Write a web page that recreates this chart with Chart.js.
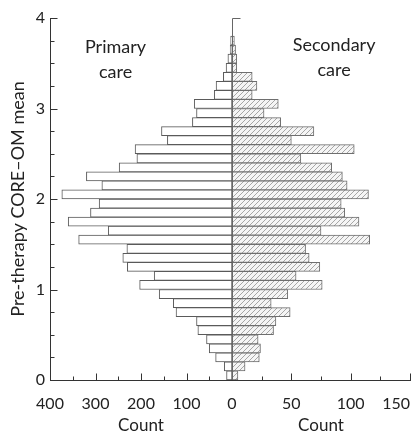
<!DOCTYPE html>
<html>
<head>
<meta charset="utf-8">
<script src="https://cdn.jsdelivr.net/npm/chart.js@4.4.1/dist/chart.umd.min.js"></script>
<style>
  html, body { margin: 0; padding: 0; background: #fff; }
  #wrap { width: 418px; height: 434px; }
</style>
</head>
<body>
<div id="wrap"><canvas id="pyramid"></canvas></div>
<script>
// bin mid points of the CORE-OM mean (bins of 0.1)
const binMid = [0.05, 0.15, 0.25, 0.35, 0.45, 0.55, 0.65, 0.75, 0.85, 0.95,
    1.05, 1.15, 1.25, 1.35, 1.45, 1.55, 1.65, 1.75, 1.85, 1.95,
    2.05, 2.15, 2.25, 2.35, 2.45, 2.55, 2.65, 2.75, 2.85, 2.95,
    3.05, 3.15, 3.25, 3.35, 3.45, 3.55, 3.65, 3.75]
const primaryCare = [12, 17, 36, 50, 56, 75, 78, 123, 129, 160,
    203, 171, 230, 240, 231, 337, 272, 360, 311, 292,
    374, 286, 320, 248, 209, 213, 142, 155, 87, 78,
    83, 39, 35, 19, 13, 9, 4, 3]
const secondaryCare = [5, 11, 23, 24, 22, 35, 37, 49, 33, 47,
    76, 54, 74, 65, 62, 116, 75, 107, 95, 92,
    115, 97, 93, 84, 58, 103, 50, 69, 41, 27,
    39, 17, 21, 17, 4, 4, 3, 2]
const leftMax = 400
const rightMax = 150

const FONT = 'Lato, "Open Sans", sans-serif'
const INK = '#222'
const AXIS = '#333'

function hatchPattern() {
    const c = document.createElement('canvas')
    c.width = 5
    c.height = 5
    const g = c.getContext('2d')
    g.fillStyle = '#f5f5f5'
    g.fillRect(0, 0, 5, 5)
    g.strokeStyle = '#a6a6a6'
    g.lineWidth = 1
    g.beginPath()
    g.moveTo(0, 5); g.lineTo(5, 0)
    g.moveTo(-1, 1); g.lineTo(1, -1)
    g.moveTo(4, 6); g.lineTo(6, 4)
    g.stroke()
    return g.createPattern(c, 'repeat')
}

// inward tick marks, centre line and the two panel labels
const axisMarks = {
    id: 'axisMarks',
    afterDatasetsDraw(chart) {
        const ctx = chart.ctx
        const area = chart.chartArea
        const y = chart.scales.y
        const xl = chart.scales.xLeft
        const xr = chart.scales.xRight
        ctx.save()
        ctx.strokeStyle = AXIS
        ctx.lineWidth = 1
        ctx.beginPath()
        const ax = Math.round(area.left) + 0.5
        for (const t of y.ticks) {
            const py = Math.round(y.getPixelForValue(t.value)) + 0.5
            const len = Number.isInteger(t.value) ? 7 : 4
            ctx.moveTo(ax, py)
            ctx.lineTo(ax + len, py)
        }
        const by = Math.round(area.bottom) + 0.5
        for (const t of xl.ticks) {
            const px = Math.round(xl.getPixelForValue(t.value)) + 0.5
            const len = t.value % 100 === 0 ? 7 : 4
            ctx.moveTo(px, by)
            ctx.lineTo(px, by - len)
        }
        for (const t of xr.ticks) {
            if (t.value === 0) continue
            const px = Math.round(xr.getPixelForValue(t.value)) + 0.5
            const len = t.value % 50 === 0 ? 7 : 4
            ctx.moveTo(px, by)
            ctx.lineTo(px, by - len)
        }
        ctx.stroke()

        // centre line with its top tick
        ctx.strokeStyle = '#666'
        ctx.beginPath()
        const cx = Math.round(xr.getPixelForValue(0)) + 0.5
        const top = Math.round(y.getPixelForValue(4)) + 0.5
        ctx.moveTo(cx, Math.round(y.getPixelForValue(0)))
        ctx.lineTo(cx, top)
        ctx.lineTo(cx + 8, top)
        ctx.stroke()

        ctx.fillStyle = INK
        ctx.font = '18px ' + FONT
        ctx.textAlign = 'center'
        ctx.textBaseline = 'middle'
        const lx = xl.getPixelForValue(256)
        const rx = xr.getPixelForValue(86)
        ctx.fillText('Primary', lx, y.getPixelForValue(3.68))
        ctx.fillText('care', lx, y.getPixelForValue(3.40))
        ctx.fillText('Secondary', rx, y.getPixelForValue(3.70))
        ctx.fillText('care', rx, y.getPixelForValue(3.42))
        ctx.restore()
    }
}

function countAxis(max, step, weight, labelEvery, reverse) {
    return {
        type: 'linear',
        axis: 'x',
        position: 'bottom',
        stack: 'count',
        stackWeight: weight,
        reverse: reverse,
        min: 0,
        max: max,
        offset: false,
        afterFit: s => {
            s.height = 54
            s.paddingLeft = 0
            s.paddingRight = 0
        },
        grid: { display: false, drawTicks: false },
        border: { display: true, color: AXIS, width: 1 },
        ticks: {
            stepSize: step,
            autoSkip: false,
            maxRotation: 0,
            padding: 16,
            color: INK,
            align: reverse ? 'center' : 'inner',
            font: { family: FONT, size: 16, lineHeight: 1 },
            callback: v => (v % labelEvery === 0 && !(v === 0 && !reverse)) ? String(v) : ''
        },
        title: {
            display: true,
            text: 'Count',
            color: INK,
            padding: { top: 6, bottom: 0 },
            font: { family: FONT, size: 17, lineHeight: 1 }
        }
    }
}

const hatch = hatchPattern()

new Chart(document.getElementById('pyramid'), {
    type: 'bar',
    data: {
        datasets: [{
            label: 'Primary care',
            data: binMid.map((m, i) => ({ x: primaryCare[i], y: m })),
            xAxisID: 'xLeft',
            yAxisID: 'y',
            backgroundColor: '#ffffff',
            borderColor: '#5a5a5a',
            borderWidth: 1,
            borderSkipped: false,
            grouped: false,
            categoryPercentage: 1,
            barPercentage: 1
        }, {
            label: 'Secondary care',
            data: binMid.map((m, i) => ({ x: secondaryCare[i], y: m })),
            xAxisID: 'xRight',
            yAxisID: 'y',
            backgroundColor: hatch,
            borderColor: '#6e6e6e',
            borderWidth: 1,
            borderSkipped: false,
            grouped: false,
            categoryPercentage: 1,
            barPercentage: 1
        }]
    },
    options: {
        indexAxis: 'y',
        responsive: true,
        maintainAspectRatio: false,
        animation: false,
        layout: { padding: { top: 18, right: 8, bottom: 0, left: 0 } },
        plugins: {
            legend: { display: false },
            tooltip: { enabled: false }
        },
        scales: {
            y: {
                type: 'linear',
                position: 'left',
                min: 0,
                max: 4,
                offset: false,
                afterFit: s => { s.width = 50 },
                grid: { display: false, drawTicks: false },
                border: { display: true, color: AXIS, width: 1 },
                ticks: {
                    stepSize: 0.25,
                    autoSkip: false,
                    padding: 5,
                    color: INK,
                    font: { family: FONT, size: 16, lineHeight: 1 },
                    callback: v => Number.isInteger(v) ? String(v) : ''
                },
                title: {
                    display: true,
                    text: 'Pre-therapy CORE–OM mean',
                    color: INK,
                    padding: { top: 9, bottom: 4 },
                    font: { family: FONT, size: 18, lineHeight: 1 }
                }
            },
            xLeft: countAxis(leftMax, 50, 182, 100, true),
            xRight: countAxis(rightMax, 25, 178, 50, false)
        }
    },
    plugins: [axisMarks]
})
</script>
</body>
</html>
